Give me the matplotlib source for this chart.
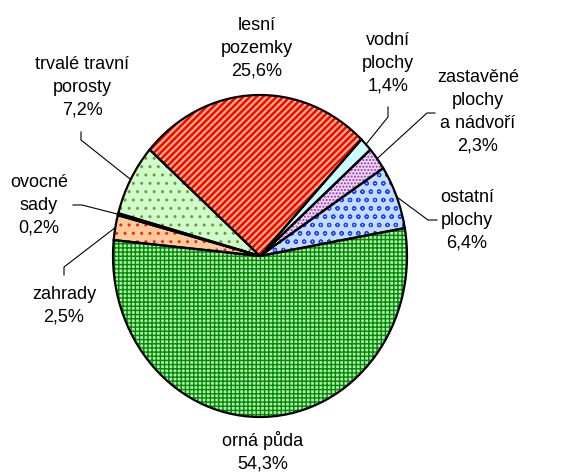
import numpy as np
import matplotlib.pyplot as plt

plt.rcParams['font.family'] = ['Liberation Sans', 'DejaVu Sans']
plt.rcParams['hatch.linewidth'] = 1.0

# data
names = [['orná půda'], ['zahrady'], ['ovocné', 'sady'], ['trvalé travní', 'porosty'],
         ['lesní', 'pozemky'], ['vodní', 'plochy'], ['zastavěné', 'plochy', 'a nádvoří'],
         ['ostatní', 'plochy']]
shares = [54.3, 2.5, 0.2, 7.2, 25.6, 1.4, 2.3, 6.4]

# styles
faces = ['#b4ecb4', '#ffcc99', '#ffff99', '#ccffcc', '#ffb88a', '#ccffff', '#ecd9f5', '#c4ddff']
hatches = ['++++', '..', '', '..', '/////', '', '.....', 'oo']
hatch_cols = ['#008a00', '#ff2020', '#999900', '#8f8f30', '#ff0000', '#ccffff', '#9933aa', '#2040ff']
hatch_lw = [1.0, 1.0, 1.0, 1.0, 1.8, 1.0, 1.0, 0.8]

# layout in pixels: pie centre and radii (pie is a bit taller than wide)
W, H = 571, 473
CX, CY, RX, RY = 260, 256, 147, 161


def px(x, y):
    return (x - CX) / RX, (CY - y) / RY


label_pos = [(263, 452), (64, 306), (39, 205), (82, 87), (257, 48), (388, 63), (478, 112), (467, 220)]
leaders = [None, [(64, 275), (64, 267)], [(73, 205), (82, 205)], [(81, 132), (81, 140)],
           None, [(388, 107), (388, 117)], [(435, 113), (427, 113)], [(437, 220), (428, 220)]]

fig = plt.figure(figsize=(W / 100, H / 100), dpi=100)
ax = fig.add_axes([0, 0, 1, 1])

start = 10
wedges, _ = ax.pie(shares, startangle=start, counterclock=False, radius=1)
for w, fc, h, hc, hl in zip(wedges, faces, hatches, hatch_cols, hatch_lw):
    w.set_facecolor(fc)
    w.set_hatch(h)
    w.set_edgecolor(hc)
    w.set_linewidth(0)
    if hasattr(w, 'set_hatch_linewidth'):
        w.set_hatch_linewidth(hl)
# outlines on top
ax.pie(shares, startangle=start, counterclock=False, radius=1,
       wedgeprops=dict(facecolor='none', edgecolor='black', linewidth=1.6))

ax.set_aspect('auto')
ax.set_xlim(px(0, 0)[0], px(W, 0)[0])
ax.set_ylim(px(0, H)[1], px(0, 0)[1])
ax.axis('off')

total = sum(shares)
cum = np.cumsum([0] + shares[:-1])
for i, v in enumerate(shares):
    txt = '\n'.join(names[i] + [f'{v:.1f}%'.replace('.', ',')])
    ax.text(*px(*label_pos[i]), txt, ha='center', va='center', fontsize=13, linespacing=1.45)
    if leaders[i]:
        mid = np.radians(start - 360 * (cum[i] + v / 2) / total)
        pts = [px(*p) for p in leaders[i]] + [(np.cos(mid), np.sin(mid))]
        xs, ys = zip(*pts)
        ax.plot(xs, ys, color='black', lw=0.8)

fig.savefig('out.png', dpi=100)
